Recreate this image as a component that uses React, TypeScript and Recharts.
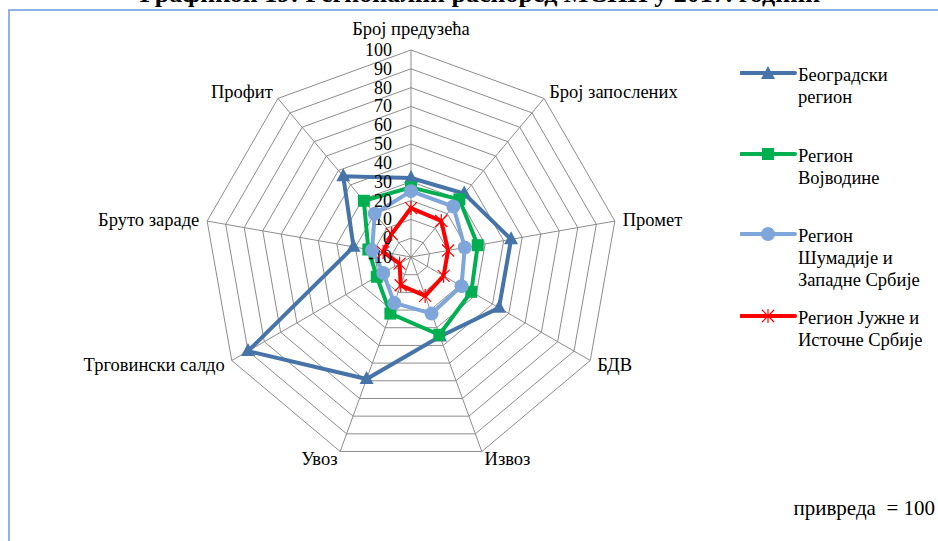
import { RadarChart, Radar, PolarGrid, PolarAngleAxis, PolarRadiusAxis, Legend } from "recharts";

const categories = [
  "Број предузећа",
  "Број запослених",
  "Промет",
  "БДВ",
  "Извоз",
  "Увоз",
  "Трговински салдо",
  "Бруто зараде",
  "Профит",
];
const belgrade = [32, 34, 44, 44, 35, 59, 90, 21, 46];
const vojvodina = [27, 30, 26, 27, 34, 22, 11, 13, 29];
const sumadija = [25, 25, 19, 21, 22, 16, 7, 11, 20];
const southEast = [16, 15, 10, 10, 12, 6, -3, 5, 6];
const radiusTicks = [-10, 0, 10, 20, 30, 40, 50, 60, 70, 80, 90, 100];

const FONT = "Liberation Serif, DejaVu Serif, serif";

const chartData = categories.map((name, i) => ({
  name,
  belgrade: belgrade[i],
  vojvodina: vojvodina[i],
  sumadija: sumadija[i],
  southEast: southEast[i],
}));

type Shape = "triangle" | "square" | "circle" | "star";

const series: { key: string; label: string[]; color: string; shape: Shape }[] = [
  { key: "belgrade", label: ["Београдски", "регион"], color: "#4674a8", shape: "triangle" },
  { key: "vojvodina", label: ["Регион", "Војводине"], color: "#00b050", shape: "square" },
  { key: "sumadija", label: ["Регион", "Шумадије и", "Западне Србије"], color: "#7fa6da", shape: "circle" },
  { key: "southEast", label: ["Регион Јужне и", "Источне Србије"], color: "#ff0000", shape: "star" },
];

function Marker({ cx, cy, shape, color }: { cx: number; cy: number; shape: Shape; color: string }) {
  if (shape === "triangle") {
    return <polygon points={`${cx},${cy - 8} ${cx + 7},${cy + 5} ${cx - 7},${cy + 5}`} fill={color} />;
  }
  if (shape === "square") {
    return <rect x={cx - 6} y={cy - 6} width={12} height={12} fill={color} />;
  }
  if (shape === "circle") {
    return <circle cx={cx} cy={cy} r={7} fill={color} />;
  }
  return (
    <g stroke={color} strokeWidth={1.2}>
      <line x1={cx - 6} y1={cy - 6} x2={cx + 6} y2={cy + 6} />
      <line x1={cx - 6} y1={cy + 6} x2={cx + 6} y2={cy - 6} />
      <line x1={cx} y1={cy - 7} x2={cx} y2={cy + 7} />
    </g>
  );
}

function AngleTick(props: any) {
  const { x, y, payload, textAnchor } = props;
  const top = textAnchor === "middle" && y < 100;
  return (
    <text
      x={x}
      y={top ? y - 7 : y}
      textAnchor={textAnchor}
      dominantBaseline={top ? "auto" : "central"}
      style={{ fontFamily: FONT }}
      fontSize={18.5}
      fill="#000"
    >
      {payload.value}
    </text>
  );
}

function RadiusTick(props: any) {
  const { x, y, payload } = props;
  return (
    <text
      x={x - 19}
      y={y}
      textAnchor="end"
      dominantBaseline="central"
      style={{ fontFamily: FONT }}
      fontSize={18}
      fill="#000"
    >
      {payload.value}
    </text>
  );
}

function LegendBox() {
  const tops = [62, 143, 223, 305];
  return (
    <div style={{ position: "relative", width: 198, height: 300, fontFamily: FONT, fontSize: 18.5, lineHeight: "22px" }}>
      {series.map((s, i) => (
        <div key={s.key} style={{ position: "absolute", left: 0, top: tops[i] - 62, display: "flex" }}>
          <svg width={58} height={22} style={{ flex: "none" }}>
            <line x1={1} y1={11} x2={55} y2={11} stroke={s.color} strokeWidth={4} strokeLinecap="round" />
            <Marker cx={28} cy={s.shape === "triangle" ? 12 : 11} shape={s.shape} color={s.color} />
          </svg>
          <div style={{ color: "#000", whiteSpace: "nowrap", marginTop: 2 }}>
            {s.label.map((l) => (
              <div key={l}>{l}</div>
            ))}
          </div>
        </div>
      ))}
    </div>
  );
}

export default function App() {
  return (
    <div style={{ position: "absolute", left: 0, top: 0, width: 938, height: 541, background: "#fff", overflow: "hidden" }}>
      <div
        style={{
          position: "absolute",
          left: 0,
          right: 0,
          top: -21,
          textAlign: "center",
          paddingLeft: 22,
          fontFamily: FONT,
          fontWeight: "bold",
          fontSize: 26,
          whiteSpace: "nowrap",
        }}
      >
        Графикон 19: Регионални распоред МСПП у 2017. години
      </div>
      <div
        style={{
          position: "absolute",
          left: 8,
          top: 9,
          width: 940,
          height: 540,
          borderLeft: "2px solid #8db3e2",
          borderTop: "2px solid #8db3e2",
        }}
      />
      <RadarChart
        width={938}
        height={541}
        data={chartData}
        cx={411}
        cy={257}
        outerRadius={207}
        startAngle={90}
        endAngle={-270}
        style={{ position: "absolute", left: 0, top: 0 }}
      >
        <PolarGrid gridType="polygon" stroke="#8c8c8c" strokeWidth={1} />
        <PolarAngleAxis dataKey="name" tick={<AngleTick />} tickLine={false} axisLine={false} />
        <PolarRadiusAxis
          angle={90}
          domain={[-10, 100]}
          ticks={radiusTicks as any}
          tickCount={12}
          tick={<RadiusTick />}
          axisLine={false}
          tickLine={false}
        />
        {series.map((s) => (
          <Radar
            key={s.key}
            dataKey={s.key}
            name={s.label.join(" ")}
            stroke={s.color}
            strokeWidth={4}
            fill="none"
            fillOpacity={0}
            isAnimationActive={false}
            dot={(p: any) => (
              <Marker key={`${s.key}-${p.cx}-${p.cy}`} cx={p.cx} cy={p.cy} shape={s.shape} color={s.color} />
            )}
          />
        ))}
        <Legend
          content={<LegendBox />}
          wrapperStyle={{ position: "absolute", left: 740, top: 62, width: 198 }}
        />
      </RadarChart>
      <div
        style={{
          position: "absolute",
          right: 3,
          top: 496,
          fontFamily: FONT,
          fontSize: 21,
          color: "#000",
          whiteSpace: "pre",
        }}
      >
        {"привреда  = 100"}
      </div>
    </div>
  );
}
